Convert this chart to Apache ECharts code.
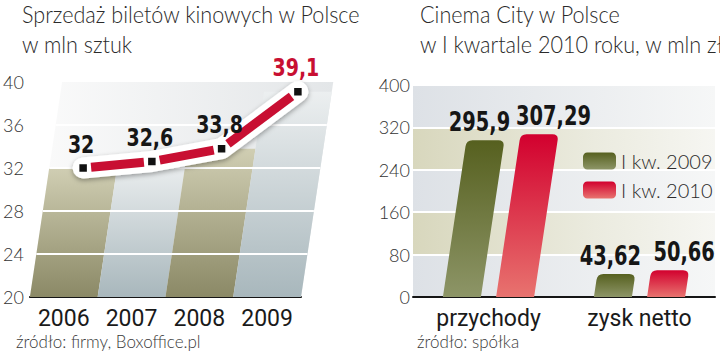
<!DOCTYPE html>
<html><head><meta charset="utf-8">
<script src="https://cdn.jsdelivr.net/npm/echarts@6/dist/echarts.min.js"></script>
<style>html,body{margin:0;padding:0;background:#fff}#c{width:720px;height:357px}</style>
</head><body><div id="c"></div>
<script>
// ---- data ----
const years = ['2006', '2007', '2008', '2009'];
const tickets = [32, 32.6, 33.8, 39.1];
const leftGridValues = [24, 28, 32, 36];
const cinemaCategories = ['przychody', 'zysk netto'];
const q1_2009 = [295.9, 43.62];
const q1_2010 = [307.29, 50.66];
const seriesNames = ['I kw. 2009', 'I kw. 2010'];
const titleLeft = ['Sprzedaż biletów kinowych w Polsce', 'w mln sztuk'];
const titleRight = ['Cinema City w Polsce', 'w I kwartale 2010 roku, w mln zł'];
const sourceLeft = 'źródło: firmy, Boxoffice.pl';
const sourceRight = 'źródło: spółka';

// ---- styles ----
const K = 0.15; // skew
const LIGHT = "Lato, 'Roboto Light', Roboto, sans-serif";
const TITLE = "Lato, 'Roboto Light', Roboto, sans-serif";
const CAT = "Roboto, 'Open Sans', sans-serif";
const BOLD = "'DejaVu Sans', 'Liberation Sans', sans-serif";
const fmt = v => String(v).replace('.', ',');
const G = echarts.graphic;

const chart = echarts.init(document.getElementById('c'), null, {renderer: 'svg'});

function skewPt(api, i, v, base) {
  const p = api.coord([i, v]);
  const b = api.coord([i, base]);
  return [p[0] + K * (b[1] - p[1]), p[1]];
}

const oliveCol = new G.LinearGradient(0, 0, 0, 1, [{offset: 0, color: '#d0ceb3'}, {offset: 1, color: '#8b8966'}]);
const blueCol = new G.LinearGradient(0, 0, 0, 1, [{offset: 0, color: '#eceff0'}, {offset: 1, color: '#a8b7bc'}]);
const olive2009 = new G.LinearGradient(0, 0, 0, 1, [{offset: 0, color: '#56601f'}, {offset: 1, color: '#8d9567'}]);
const red2010 = new G.LinearGradient(0, 0, 0, 1, [{offset: 0, color: '#d2002e'}, {offset: 1, color: '#e8736f'}]);

function condText(text, x, y, size, fill, sx) {
  return {type: 'text', x: x, y: y, scaleX: sx,
    style: {text: text, x: 0, y: 0, align: 'center', verticalAlign: 'bottom',
      font: 'bold ' + size + 'px ' + BOLD, fill: fill}};
}

function barRender(off, color, labelDx) {
  return function (params, api) {
    const i = api.value(0), v = api.value(1);
    const b = api.coord([i, 0]);
    const t = api.coord([i, v]);
    const h = b[1] - t[1];
    const bw = 38, r = 6, s = K * h;
    const cx = b[0] + off;
    const x0 = cx - bw / 2, x1 = cx + bw / 2, yb = b[1], yt = t[1];
    const d = 'M' + x0 + ' ' + yb + 'L' + x1 + ' ' + yb +
      'L' + (x1 + K * (h - r)) + ' ' + (yt + r) +
      'Q' + (x1 + s) + ' ' + yt + ' ' + (x1 + s - r) + ' ' + yt +
      'L' + (x0 + s + r) + ' ' + yt +
      'Q' + (x0 + s) + ' ' + yt + ' ' + (x0 + K * (h - r)) + ' ' + (yt + r) + 'Z';
    return {
      type: 'group',
      children: [
        {type: 'path', shape: {pathData: d}, style: {fill: color}},
        condText(fmt(v), cx + s + labelDx, yt - 5, 27, '#161616', 0.72)
      ]
    };
  };
}

function titleText(text, x, y) {
  return {type: 'text', x: x, y: y, scaleX: 0.9,
    style: {text: text, font: '300 24px ' + TITLE, lineHeight: 24, fill: '#2b2b2b', verticalAlign: 'top'}};
}

const option = {
  animation: false,
  legend: {
    data: seriesNames, orient: 'vertical', left: 578, top: 146, itemWidth: 33, itemHeight: 17, itemGap: 9,
    icon: 'roundRect', selectedMode: false,
    textStyle: {fontFamily: LIGHT, fontWeight: 300, fontSize: 20, color: '#2b2b2b'}
  },
  grid: [
    {left: 24, top: 82, width: 277, height: 215},
    {left: 413, top: 85, width: 302, height: 212}
  ],
  xAxis: [
    {type: 'category', gridIndex: 0, data: years, axisTick: {show: false},
     axisLine: {lineStyle: {color: '#151515', width: 2}},
     axisLabel: {interval: 0, fontFamily: CAT, fontSize: 23, color: '#1a1a1a', margin: 10}},
    {type: 'category', gridIndex: 1, data: cinemaCategories, axisTick: {show: false},
     axisLine: {lineStyle: {color: '#151515', width: 2}},
     axisLabel: {interval: 0, fontFamily: CAT, fontSize: 23, color: '#1a1a1a', margin: 10}}
  ],
  yAxis: [
    {type: 'value', gridIndex: 0, min: 20, max: 40, interval: 4, splitLine: {show: false},
     axisLine: {show: false}, axisTick: {show: false},
     axisLabel: {fontFamily: LIGHT, fontWeight: 300, fontSize: 18, color: '#333', margin: 6}},
    {type: 'value', gridIndex: 1, min: 0, max: 400, interval: 80,
     axisLine: {show: false}, axisTick: {show: false},
     splitLine: {show: true, lineStyle: {color: '#ffffff', width: 2}},
     splitArea: {show: true, areaStyle: {color: [
       new G.LinearGradient(0, 0, 1, 0, [{offset: 0, color: '#dde1e6'}, {offset: 1, color: '#f6f7f7'}]),
       new G.LinearGradient(0, 0, 1, 0, [{offset: 0, color: '#d8d7bd'}, {offset: 0.6, color: '#ebebdf'}, {offset: 1, color: '#f6f6f2'}])
     ]}},
     axisLabel: {fontFamily: LIGHT, fontWeight: 300, fontSize: 18, color: '#333', margin: 3}}
  ],
  series: [
    // skewed background panel
    {type: 'custom', xAxisIndex: 0, yAxisIndex: 0, silent: true, z: 1, data: [[0, 40]],
     renderItem: function (params, api) {
       const cs = params.coordSys;
       const h = cs.height;
       return {type: 'polygon', shape: {points: [
         [cs.x, cs.y + h], [cs.x + cs.width, cs.y + h], [cs.x + cs.width + K * h, cs.y], [cs.x + K * h, cs.y]]},
         style: {fill: new G.LinearGradient(0, 0, 1, 0, [{offset: 0, color: '#fbfbfb'}, {offset: 1, color: '#e3e6e8'}])}};
     }},
    // skewed columns
    {type: 'custom', xAxisIndex: 0, yAxisIndex: 0, silent: true, z: 2,
     data: tickets.map((v, i) => [i, v]),
     renderItem: function (params, api) {
       const i = api.value(0), v = api.value(1);
       const b = api.coord([i, 20]);
       const t = api.coord([i, v]);
       const w = api.size([1, 0])[0];
       const s = K * (b[1] - t[1]);
       return {type: 'polygon', shape: {points: [
         [b[0] - w / 2, b[1]], [b[0] + w / 2, b[1]], [b[0] + w / 2 + s, t[1]], [b[0] - w / 2 + s, t[1]]]},
         style: {fill: i % 2 === 0 ? oliveCol : blueCol}};
     }},
    // white grid lines across the skewed panel
    {type: 'custom', xAxisIndex: 0, yAxisIndex: 0, silent: true, z: 3,
     data: leftGridValues.map(v => [0, v]),
     renderItem: function (params, api) {
       const cs = params.coordSys;
       const y = api.coord([0, api.value(1)])[1];
       const s = K * (cs.y + cs.height - y);
       return {type: 'line', shape: {x1: cs.x + s, y1: y, x2: cs.x + cs.width + s, y2: y},
         style: {stroke: '#ffffff', lineWidth: 2}};
     }},
    // white halo of the line
    {type: 'custom', xAxisIndex: 0, yAxisIndex: 0, silent: true, z: 4, data: [[0, tickets[0]]],
     renderItem: function (params, api) {
       const pts = tickets.map((v, i) => skewPt(api, i, v, 20));
       return {type: 'polyline', shape: {points: pts},
         style: {stroke: '#ffffff', lineWidth: 21, lineJoin: 'round', lineCap: 'round', fill: null,
           shadowBlur: 5, shadowColor: 'rgba(0,0,0,0.35)', shadowOffsetY: 2}};
     }},
    // red segments
    {type: 'custom', xAxisIndex: 0, yAxisIndex: 0, silent: true, z: 5,
     data: tickets.slice(0, -1).map((v, i) => [i, v, tickets[i + 1]]),
     renderItem: function (params, api) {
       const i = api.value(0);
       const a = skewPt(api, i, api.value(1), 20);
       const c = skewPt(api, i + 1, api.value(2), 20);
       const dx = c[0] - a[0], dy = c[1] - a[1];
       const L = Math.sqrt(dx * dx + dy * dy);
       const ux = dx / L, uy = dy / L, g = 8;
       return {type: 'line', shape: {x1: a[0] + ux * g, y1: a[1] + uy * g, x2: c[0] - ux * g, y2: c[1] - uy * g},
         style: {stroke: '#c80f32', lineWidth: 9}};
     }},
    // markers and labels
    {type: 'custom', xAxisIndex: 0, yAxisIndex: 0, silent: true, z: 6,
     data: tickets.map((v, i) => [i, v]),
     renderItem: function (params, api) {
       const i = api.value(0), v = api.value(1);
       const p = skewPt(api, i, v, 20);
       const last = i === tickets.length - 1;
       return {type: 'group', children: [
         {type: 'rect', shape: {x: p[0] - 4.5, y: p[1] - 4.5, width: 9, height: 9},
          style: {fill: '#111', stroke: '#fff', lineWidth: 1.5}},
         condText(fmt(v), p[0] - 2, p[1] - 12, 25, last ? '#c80f32' : '#161616', 0.76)
       ]};
     }},
    // right chart bars
    {name: seriesNames[0], type: 'custom', xAxisIndex: 1, yAxisIndex: 1, z: 4,
     itemStyle: {color: olive2009},
     data: q1_2009.map((v, i) => [i, v]),
     renderItem: barRender(-26.6, olive2009, -6)},
    {name: seriesNames[1], type: 'custom', xAxisIndex: 1, yAxisIndex: 1, z: 4,
     itemStyle: {color: red2010},
     data: q1_2010.map((v, i) => [i, v]),
     renderItem: barRender(26.6, red2010, 14)}
  ],
  graphic: [
    titleText(titleLeft[0], 22, 2),
    titleText(titleLeft[1], 22, 32),
    titleText(titleRight[0], 420, 2),
    titleText(titleRight[1], 420, 32),
    {type: 'text', x: 16, y: 333, style: {text: sourceLeft, font: '300 17px ' + LIGHT, fill: '#3a3a3a', verticalAlign: 'top'}},
    {type: 'text', x: 417, y: 333, style: {text: sourceRight, font: '300 17px ' + LIGHT, fill: '#3a3a3a', verticalAlign: 'top'}}
  ]
};
chart.setOption(option);
</script>
</body></html>
